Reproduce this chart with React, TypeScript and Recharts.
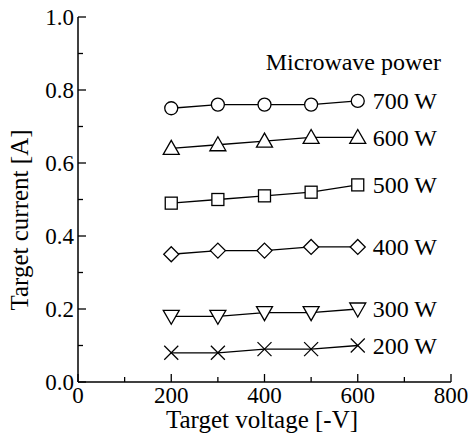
import * as React from "react";
import { LineChart, Line, XAxis, YAxis, Label, LabelList } from "recharts";

const voltage = [200, 300, 400, 500, 600];
const p700 = [0.75, 0.76, 0.76, 0.76, 0.77];
const p600 = [0.64, 0.65, 0.66, 0.67, 0.67];
const p500 = [0.49, 0.5, 0.51, 0.52, 0.54];
const p400 = [0.35, 0.36, 0.36, 0.37, 0.37];
const p300 = [0.18, 0.18, 0.19, 0.19, 0.2];
const p200 = [0.08, 0.08, 0.09, 0.09, 0.1];

const seriesNames = ["700 W", "600 W", "500 W", "400 W", "300 W", "200 W"];
const xTicks = [0, 100, 200, 300, 400, 500, 600, 700, 800];
const yTicks = [0, 0.1, 0.2, 0.3, 0.4, 0.5, 0.6, 0.7, 0.8, 0.9, 1.0];

const data = voltage.map((v, i) => ({
  v,
  p700: p700[i],
  p600: p600[i],
  p500: p500[i],
  p400: p400[i],
  p300: p300[i],
  p200: p200[i],
}));

const SW = 1.3;
const MAJOR = 8;
const MINOR = 5;

// force the serif face even if some stylesheet sets text fonts
const serif = (el: SVGTextElement | null) => {
  if (el) el.style.setProperty("font-family", "Liberation Serif", "important");
};

function T(props: any) {
  return <text ref={serif} fill="#000" style={{ fontFamily: "Liberation Serif" }} {...props} />;
}

const isMajorX = (v: number) => v % 200 === 0;
const isMajorY = (v: number) => Math.round(v * 10) % 2 === 0;

function BottomTick({ x, y, payload }: any) {
  const v = payload.value;
  const major = isMajorX(v);
  return (
    <g>
      <line x1={x} x2={x} y1={y} y2={y - (major ? MAJOR : MINOR)} stroke="#000" strokeWidth={SW} />
      {major && (
        <T x={x} y={y} dy={21} textAnchor="middle" fontSize={23}>
          {v}
        </T>
      )}
    </g>
  );
}

function TopTick({ x, y, payload }: any) {
  const major = isMajorX(payload.value);
  return <line x1={x} x2={x} y1={y} y2={y + (major ? MAJOR : MINOR)} stroke="#000" strokeWidth={SW} />;
}

function LeftTick({ x, y, payload }: any) {
  const v = payload.value;
  const major = isMajorY(v);
  return (
    <g>
      <line x1={x} x2={x + (major ? MAJOR : MINOR)} y1={y} y2={y} stroke="#000" strokeWidth={SW} />
      {major && (
        <T x={x - 4} y={y} dy="0.35em" textAnchor="end" fontSize={23}>
          {v.toFixed(1)}
        </T>
      )}
    </g>
  );
}

function RightTick({ x, y, payload }: any) {
  const major = isMajorY(payload.value);
  return <line x1={x} x2={x - (major ? MAJOR : MINOR)} y1={y} y2={y} stroke="#000" strokeWidth={SW} />;
}

const mk = { stroke: "#000", strokeWidth: SW, fill: "#fff" };

function CircleDot({ cx, cy }: any) {
  return <circle cx={cx} cy={cy} r={6.5} {...mk} />;
}
function UpDot({ cx, cy }: any) {
  return <polygon points={`${cx},${cy - 8} ${cx - 8},${cy + 6} ${cx + 8},${cy + 6}`} {...mk} />;
}
function SquareDot({ cx, cy }: any) {
  return <rect x={cx - 6} y={cy - 6} width={12} height={12} {...mk} />;
}
function DiamondDot({ cx, cy }: any) {
  return <polygon points={`${cx},${cy - 7.5} ${cx + 7.5},${cy} ${cx},${cy + 7.5} ${cx - 7.5},${cy}`} {...mk} />;
}
function DownDot({ cx, cy }: any) {
  return <polygon points={`${cx - 8},${cy - 6} ${cx + 8},${cy - 6} ${cx},${cy + 8}`} {...mk} />;
}
function CrossDot({ cx, cy }: any) {
  const d = 7;
  return (
    <g stroke="#000" strokeWidth={SW}>
      <line x1={cx - d} y1={cy - d} x2={cx + d} y2={cy + d} />
      <line x1={cx - d} y1={cy + d} x2={cx + d} y2={cy - d} />
    </g>
  );
}

const series = [
  { key: "p700", dot: CircleDot },
  { key: "p600", dot: UpDot },
  { key: "p500", dot: SquareDot },
  { key: "p400", dot: DiamondDot },
  { key: "p300", dot: DownDot },
  { key: "p200", dot: CrossDot },
];

export default function App() {
  return (
    <div style={{ position: "absolute", left: 0, top: 0, background: "#fff", fontFamily: "Liberation Serif" }}>
      <LineChart
        width={470}
        height={441}
        data={data}
        margin={{ top: 17, right: 19, bottom: 19, left: 18 }}
        style={{ fontFamily: "Liberation Serif" }}
      >
        <XAxis
          dataKey="v"
          type="number"
          domain={[0, 800]}
          ticks={xTicks}
          interval={0}
          height={40}
          tickSize={0}
          tickMargin={0}
          tickLine={false}
          axisLine={{ stroke: "#000", strokeWidth: 1.5 }}
          tick={<BottomTick />}
        >
          <Label
            content={() => (
              <T x={262} y={428} textAnchor="middle" fontSize={25}>
                Target voltage [-V]
              </T>
            )}
          />
        </XAxis>
        <XAxis
          xAxisId="top"
          orientation="top"
          dataKey="v"
          type="number"
          domain={[0, 800]}
          ticks={xTicks}
          interval={0}
          height={0}
          tickSize={0}
          tickMargin={0}
          tickLine={false}
          axisLine={{ stroke: "#000", strokeWidth: 1.5 }}
          tick={<TopTick />}
        />
        <YAxis
          type="number"
          domain={[0, 1]}
          ticks={yTicks}
          interval={0}
          width={60}
          tickSize={0}
          tickMargin={0}
          tickLine={false}
          axisLine={{ stroke: "#000", strokeWidth: 1.5 }}
          tick={<LeftTick />}
        >
          <Label
            content={() => (
              <g>
                <T
                  x={19}
                  y={220}
                  transform="rotate(-90 19 220)"
                  dy="0.35em"
                  textAnchor="middle"
                  fontSize={25}
                >
                  Target current [A]
                </T>
                <T x={441} y={70} textAnchor="end" fontSize={24}>
                  Microwave power
                </T>
              </g>
            )}
          />
        </YAxis>
        <YAxis
          yAxisId="right"
          orientation="right"
          type="number"
          domain={[0, 1]}
          ticks={yTicks}
          interval={0}
          width={0}
          tickSize={0}
          tickMargin={0}
          tickLine={false}
          axisLine={{ stroke: "#000", strokeWidth: 1.5 }}
          tick={<RightTick />}
        />
        {series.map((s, si) => {
          const Dot = s.dot;
          return (
            <Line
              key={s.key}
              dataKey={s.key}
              type="linear"
              stroke="#000"
              strokeWidth={SW}
              dot={(p: any) => <Dot key={`${s.key}-${p.index}`} cx={p.cx} cy={p.cy} />}
              activeDot={false}
              isAnimationActive={false}
            >
              <LabelList
                dataKey={s.key}
                content={(p: any) =>
                  p.index === voltage.length - 1 ? (
                    <T x={p.x + 15} y={p.y} dy="0.35em" fontSize={24}>
                      {seriesNames[si]}
                    </T>
                  ) : null
                }
              />
            </Line>
          );
        })}
      </LineChart>
    </div>
  );
}
